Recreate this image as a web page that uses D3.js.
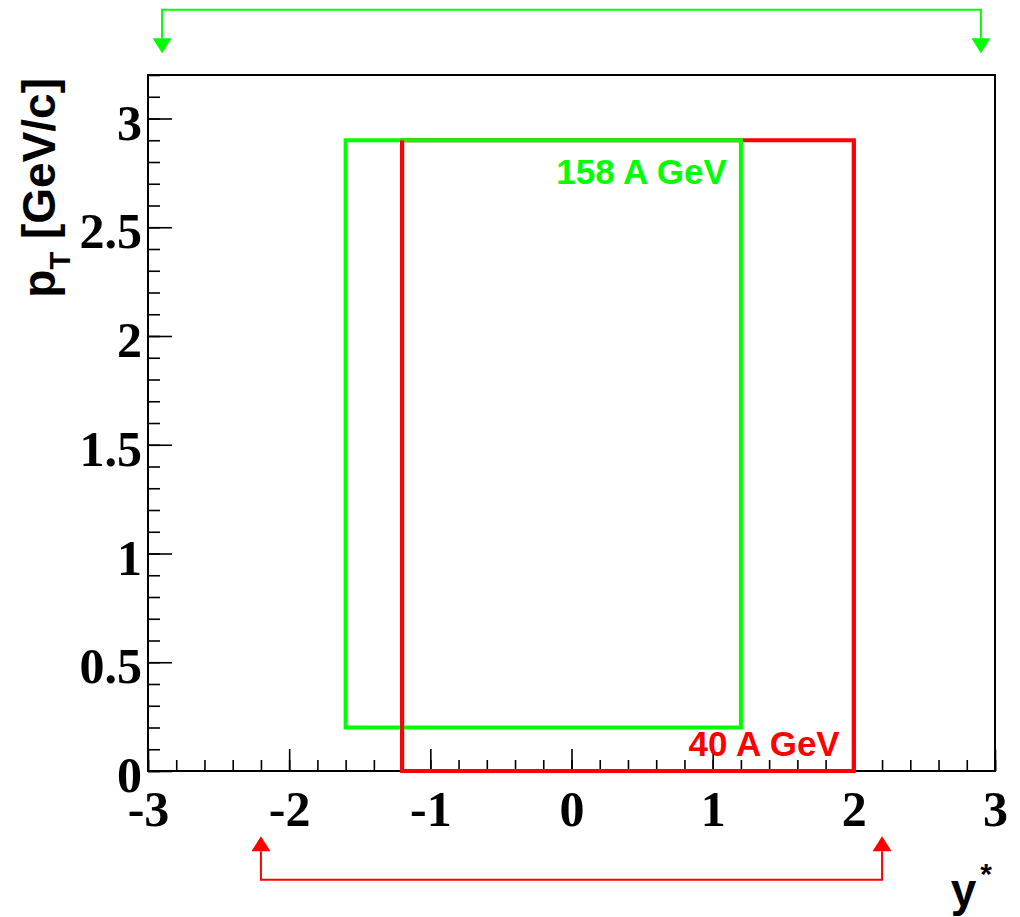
<!DOCTYPE html>
<html>
<head>
<meta charset="utf-8">
<script src="https://cdn.jsdelivr.net/npm/d3@7"></script>
<style>
  body { margin: 0; background: #fff; }
  svg { display: block; }
</style>
</head>
<body>
<svg width="1020" height="917"></svg>
<script>
(function (d3) {

  // Acceptance data
  // ---------------
  var beams   = ['158 A GeV', '40 A GeV'];
  var colors  = ['#00ff00', '#ff0000'];
  var yLo     = [-1.6, -1.2];
  var yHi     = [1.2, 2.0];
  var ptLo    = [0.2, 0.0];
  var ptHi    = [2.9, 2.9];
  var accLo   = [-2.9, -2.2];
  var accHi   = [2.9, 2.2];
  var xTicks  = [-3, -2, -1, 0, 1, 2, 3];
  var yTicks  = [0, 0.5, 1, 1.5, 2, 2.5, 3];

  var svg = d3.select('svg');
  var x = d3.scaleLinear().domain([-3, 3]).range([148, 995]);
  var y = d3.scaleLinear().domain([0, 3.2]).range([771, 75]);

  // Frame and axes
  // --------------
  svg.append('rect')
     .attr('x', x(-3))
     .attr('y', y(3.2))
     .attr('width', x(3) - x(-3))
     .attr('height', y(0) - y(3.2))
     .style('fill', 'none')
     .style('stroke', 'black')
     .style('stroke-width', 2);

  var xMinor = d3.range(-30, 31, 2).map(function (v) { return v / 10; });
  var yMinor = d3.range(0, 33, 1).map(function (v) { return v / 10; });

  var gx = svg.append('g').attr('transform', 'translate(0,' + y(0) + ')');
  gx.append('g').call(d3.axisBottom(x).tickValues(xMinor).tickSize(-11).tickFormat(''));
  gx.append('g').call(d3.axisBottom(x).tickValues(xTicks).tickSize(-22).tickPadding(0)
     .tickFormat(function (d) { return String(d); }));

  var gy = svg.append('g').attr('transform', 'translate(' + x(-3) + ',0)');
  gy.append('g').call(d3.axisLeft(y).tickValues(yMinor).tickSize(-12).tickFormat(''));
  gy.append('g').call(d3.axisLeft(y).tickValues(yTicks).tickSize(-24).tickPadding(6)
     .tickFormat(function (d) { return String(d); }));

  svg.selectAll('.domain').remove();
  svg.selectAll('.tick line').style('stroke', 'black').style('stroke-width', 1.6);
  svg.selectAll('.tick text')
     .attr('font-family', '"Liberation Serif", "Times New Roman", serif')
     .attr('font-weight', 'bold')
     .attr('font-size', '50px')
     .attr('fill', 'black');
  gx.selectAll('.tick text').attr('y', 55).attr('dy', 0);
  gy.selectAll('.tick text').attr('dy', '0.41em');

  svg.append('line')
     .attr('x1', x(-3)).attr('x2', x(3))
     .attr('y1', y(0)).attr('y2', y(0))
     .style('stroke', 'black')
     .style('stroke-width', 2);

  // Axis titles
  // -----------
  var ytitle = svg.append('text')
     .attr('transform', 'translate(55,78) rotate(-90)')
     .attr('text-anchor', 'end')
     .attr('font-family', '"Liberation Sans", Arial, sans-serif')
     .attr('font-weight', 'bold')
     .attr('font-size', '46px')
     .attr('fill', 'black');
  ytitle.append('tspan').text('p');
  ytitle.append('tspan').attr('dy', 15).attr('font-size', '29px').text('T');
  ytitle.append('tspan').attr('dy', -15).text(' [GeV/c]');

  var xtitle = svg.append('text')
     .attr('x', 992)
     .attr('y', 906)
     .attr('text-anchor', 'end')
     .attr('font-family', '"Liberation Sans", Arial, sans-serif')
     .attr('font-weight', 'bold')
     .attr('font-size', '46px')
     .attr('fill', 'black');
  xtitle.append('tspan').text('y');
  xtitle.append('tspan').attr('dx', 4).attr('dy', -22).attr('font-size', '30px').text('*');

  // Acceptance boxes
  // ----------------
  function boxPath(i) {
    return 'M' + x(yLo[i]) + ',' + y(ptLo[i]) +
           'H' + x(yHi[i]) + 'V' + y(ptHi[i]) +
           'H' + x(yLo[i]) + 'Z';
  }
  function sides(i) {
    return 'M' + x(yLo[i]) + ',' + y(ptLo[i]) + 'V' + y(ptHi[i]) +
           'M' + x(yHi[i]) + ',' + y(ptLo[i]) + 'V' + y(ptHi[i]);
  }
  [1, 0].forEach(function (i) {
    svg.append('path')
       .attr('d', boxPath(i))
       .style('fill', 'none')
       .style('stroke', colors[i])
       .style('stroke-width', 4)
       .style('stroke-linejoin', 'miter');
  });
  svg.append('path')
     .attr('d', sides(1))
     .style('fill', 'none')
     .style('stroke', colors[1])
     .style('stroke-width', 4);

  // Labels
  // ------
  var labelX = [1.1, 1.9];
  var labelY = [2.7, 0.07];
  beams.forEach(function (b, i) {
    svg.append('text')
       .attr('x', x(labelX[i]))
       .attr('y', y(labelY[i]))
       .attr('text-anchor', 'end')
       .attr('font-family', '"Liberation Sans", Arial, sans-serif')
       .attr('font-weight', 'bold')
       .attr('font-size', '35px')
       .attr('fill', colors[i])
       .text(b);
  });

  // Rapidity range arrows
  // ---------------------
  var arrowAt  = [3.5, -0.5];
  var arrowTip = [3.3, -0.3];
  beams.forEach(function (b, i) {
    var yl = y(arrowAt[i]), yt = y(arrowTip[i]);
    var dir = yt > yl ? 1 : -1;
    var yb = yt - dir * 15;
    svg.append('path')
       .attr('d', 'M' + x(accLo[i]) + ',' + yb + 'V' + yl +
                  'H' + x(accHi[i]) + 'V' + yb)
       .style('fill', 'none')
       .style('stroke', colors[i])
       .style('stroke-width', 2);
    [accLo[i], accHi[i]].forEach(function (v) {
      svg.append('path')
         .attr('d', 'M' + (x(v) - 9.5) + ',' + yb + 'L' + (x(v) + 9.5) + ',' + yb +
                    'L' + x(v) + ',' + yt + 'Z')
         .style('fill', colors[i])
         .style('stroke', 'none');
    });
  });

})(d3);
</script>
</body>
</html>
